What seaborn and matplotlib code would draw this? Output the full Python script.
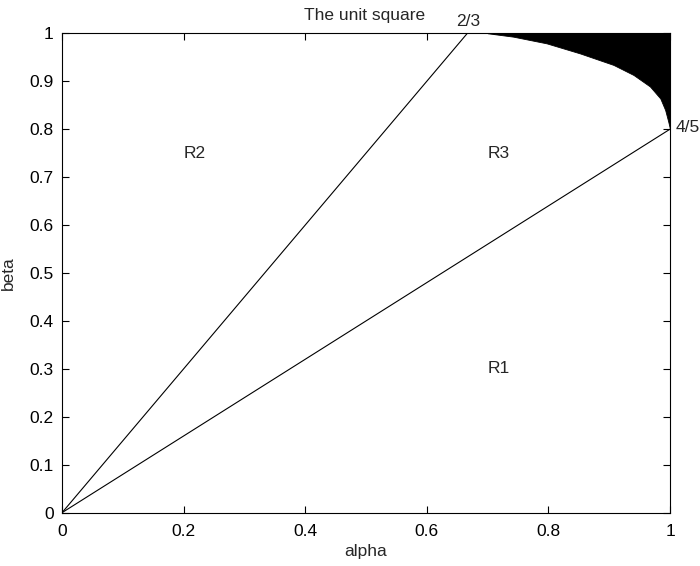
import numpy as np
import pandas as pd
import seaborn as sns
import matplotlib
matplotlib.use("Agg")
import matplotlib.pyplot as plt

# boundary lines from the origin
line_a_x = [0.0, 2 / 3]
line_a_y = [0.0, 1.0]
line_b_x = [0.0, 1.0]
line_b_y = [0.0, 0.8]

# lower edge of the black region
curve_alpha = [0.70, 0.742, 0.797, 0.852, 0.907, 0.940, 0.967, 0.984, 0.992, 0.997, 1.0]
curve_beta = [1.0, 0.993, 0.979, 0.958, 0.934, 0.913, 0.889, 0.864, 0.840, 0.816, 0.80]

region_labels = ["R1", "R2", "R3"]
region_x = [0.70, 0.20, 0.70]
region_y = [0.30, 0.75, 0.75]

x_ticks = [0, 0.2, 0.4, 0.6, 0.8, 1]
y_ticks = [0, 0.1, 0.2, 0.3, 0.4, 0.5, 0.6, 0.7, 0.8, 0.9, 1]

fs = 12.5

sns.set_theme(style="ticks")
plt.rcParams["font.family"] = ["Liberation Sans", "DejaVu Sans"]

fig = plt.figure(figsize=(7, 5.66), dpi=100)
ax = fig.add_axes([0.0886, 0.0942, 0.8686, 0.847])

lines = pd.DataFrame({
    "alpha": line_a_x + line_b_x,
    "beta": line_a_y + line_b_y,
    "which": ["a", "a", "b", "b"],
})
sns.lineplot(data=lines, x="alpha", y="beta", units="which", estimator=None,
             sort=False, color="black", linewidth=0.8, ax=ax, legend=False)

ax.fill_between(curve_alpha, curve_beta, 1.0, color="black", linewidth=0.6,
                edgecolor="black")

for lab, xx, yy in zip(region_labels, region_x, region_y):
    ax.text(xx, yy, lab, ha="left", va="center", fontsize=fs)

ax.text(0.668, 1.015, "2/3", ha="center", va="baseline", fontsize=fs, clip_on=False)
ax.text(1.009, 0.803, "4/5", ha="left", va="center", fontsize=fs, clip_on=False)
ax.text(0.398, 1.028, "The unit square", ha="left", va="baseline", fontsize=fs,
        clip_on=False)

ax.set_xlim(0, 1)
ax.set_ylim(0, 1)
ax.set_xticks(x_ticks)
ax.set_yticks(y_ticks)
ax.set_xticklabels(["0", "0.2", "0.4", "0.6", "0.8", "1"])
ax.set_yticklabels(["0", "0.1", "0.2", "0.3", "0.4", "0.5", "0.6", "0.7", "0.8", "0.9", "1"])
ax.tick_params(direction="in", top=True, right=True, length=5, width=0.8,
               labelsize=fs, colors="black")
ax.tick_params(axis="x", pad=8)
ax.tick_params(axis="y", pad=6)
for s in ax.spines.values():
    s.set_visible(True)
    s.set_linewidth(0.8)
    s.set_color("black")
ax.set_xlabel("alpha", fontsize=fs, labelpad=4)
ax.set_ylabel("beta", fontsize=fs, labelpad=10)

fig.savefig("out.png", dpi=100)
plt.close(fig)
